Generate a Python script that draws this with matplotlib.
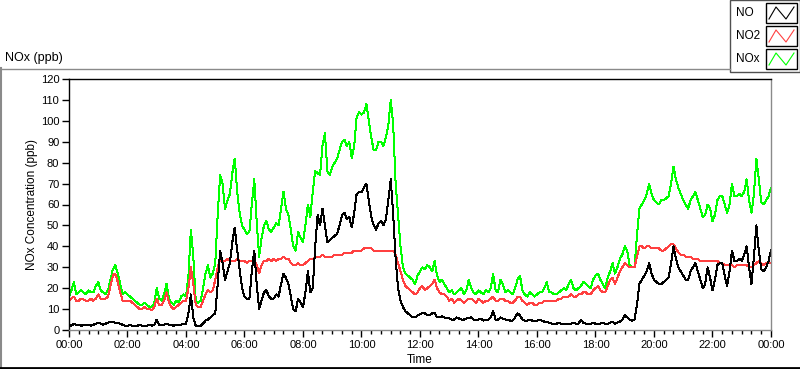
import numpy as np
import matplotlib
matplotlib.use("Agg")
import matplotlib.pyplot as plt
from matplotlib.lines import Line2D
from matplotlib.patches import Rectangle

plt.rcParams['font.family'] = ['Liberation Sans', 'DejaVu Sans']

# 5-minute samples over one day, one row per hour
hours = np.arange(0, 289) / 12.0

no_ppb = [
    2.5, 2, 3, 2.5, 2.5, 2, 2.5, 2.5, 2.5, 2, 2.5, 3,
    3.5, 3, 2.5, 3, 3.5, 4, 4, 3.5, 3.5, 3, 2.5, 2,
    2, 2.5, 2, 2, 2, 2.5, 2, 2, 2, 2.5, 2, 2.5,
    5, 2.5, 2.5, 2.5, 3, 2.5, 2.5, 2, 2.5, 2.5, 2.5, 3,
    3, 8, 17, 6, 2, 2, 2, 3, 4.5, 5, 6, 7,
    8, 22, 38, 32, 24, 28, 32, 42, 49, 38, 29, 20,
    16, 15, 15, 28, 38, 22, 10, 14, 18, 19, 16, 15,
    15, 17, 16, 22, 27, 25, 22, 16, 10, 9, 15, 13,
    11, 18, 28, 18, 20, 40, 55, 50, 58, 50, 42, 43,
    44, 45, 46, 50, 55, 56, 53, 54, 49, 56, 65, 66,
    66, 68, 70, 62, 54, 50, 48, 51, 52, 50, 53, 62,
    72, 55, 34, 20, 14, 11, 9, 8, 7, 6, 6, 7,
    7.5, 8, 8, 7, 7, 8, 8, 6, 6, 6.5, 6, 5.5,
    5.5, 5, 5, 6, 5.5, 5, 5, 5.5, 5.5, 6, 5, 5,
    5, 5.5, 4.5, 5, 5, 6, 9, 5, 5, 6, 5.5, 5,
    5, 4.5, 4.5, 6, 8, 7, 5, 4.5, 4.5, 5, 4.5, 4.5,
    4.5, 5, 4.5, 4, 4, 3.5, 3, 3, 3, 3.5, 3, 3,
    3, 3, 3, 3.5, 3, 3, 5, 3.5, 3, 3, 3, 3.5,
    3, 3, 3, 3.5, 3, 3, 3.5, 4, 3, 3.5, 4, 5,
    7, 6, 5, 4.5, 5, 12, 22, 24, 26, 28, 32, 27,
    24, 23, 22, 22, 23, 24, 25, 32, 40, 34, 30, 28,
    26, 24, 24, 28, 30, 32, 28, 24, 20, 22, 30, 25,
    19, 24, 31, 32, 32, 26, 21, 28, 38, 33, 33, 34,
    33, 36, 40, 30, 22, 35, 50, 38, 29, 28, 30, 33,
    38,
]

no2_ppb = [
    14, 15, 16, 14, 14, 15, 14.5, 14, 14, 15, 14, 15,
    17, 15, 15, 15, 16, 21, 26, 27, 23, 18, 14, 14,
    14, 14, 13, 12, 11, 10, 10, 11, 10, 10, 9.5, 11,
    15, 12, 12, 14, 18, 13, 11, 10, 11, 12, 13, 14,
    14, 20, 30, 22, 12, 11, 11, 14, 17, 19, 18, 19,
    24, 30, 34, 33, 33, 34, 33, 33, 33, 34, 33, 33,
    33, 32, 33, 33, 33, 31, 27, 31, 33, 33, 34, 33,
    34, 33, 34, 34, 35, 34, 34, 32, 31, 31, 32, 31,
    31, 32, 33, 34, 34, 35, 35, 35, 36, 35, 35, 35,
    35, 36, 36, 36, 36, 37, 37, 37, 37, 38, 38, 38,
    38, 39, 39, 39, 39, 38, 38, 38, 38, 38, 38, 38,
    38, 38, 36, 32, 28, 24, 21, 20, 19, 18, 17, 18,
    20, 21, 19, 20, 21, 22, 24, 20, 18, 17, 17, 16,
    14, 15, 13, 14, 15, 14, 13, 14, 15, 15, 14, 13,
    15, 14, 13, 14, 14, 15, 16, 14, 14, 15, 15, 14,
    14, 13, 13, 14, 16, 16, 14, 13, 12, 13, 13, 12,
    12, 13, 13, 14, 14, 14, 14, 14, 14, 15, 15, 16,
    16, 16, 17, 16, 16, 17, 17, 18, 18, 17, 17, 19,
    20, 21, 19, 18, 18, 21, 24, 25, 22, 25, 28, 30,
    32, 31, 30, 30, 30, 35, 40, 40, 39, 40, 40, 39,
    39, 39, 39, 38, 38, 39, 40, 41, 41, 39, 37, 36,
    36, 35, 35, 35, 34, 34, 34, 33, 33, 33, 33, 33,
    33, 33, 33, 32, 32, 31, 31, 31, 31, 30, 31, 31,
    31, 31, 31, 30, 30, 31, 32, 33, 32, 31, 32, 32,
    32,
]

nox_ppb = [
    16, 19, 23, 17, 18, 19, 18, 17, 19, 18, 18, 21,
    23, 19, 18, 17, 19, 24, 29, 31, 27, 22, 17, 18,
    17, 16, 15, 14, 13, 12, 12, 13, 12, 11, 11, 13,
    20, 15, 14, 17, 22, 15, 13, 12, 14, 13, 16, 17,
    16, 26, 48, 35, 14, 13, 14, 20, 27, 31, 25, 27,
    32, 55, 74, 70, 58, 62, 65, 75, 82, 66, 56, 50,
    48, 46, 47, 60, 72, 52, 35, 44, 50, 52, 48, 47,
    49, 51, 50, 58, 66, 58, 55, 48, 40, 38, 47, 44,
    42, 50, 60, 54, 66, 76, 75, 74, 88, 94, 76, 74,
    78, 80, 82, 86, 90, 91, 88, 90, 82, 88, 102, 104,
    103, 104, 108, 100, 92, 86, 86, 90, 90, 88, 92, 98,
    110, 98, 70, 55, 40, 30, 27, 26, 25, 24, 22, 26,
    28, 30, 29, 31, 30, 28, 33, 26, 23, 24, 22, 20,
    18, 19, 17, 18, 19, 20, 17, 19, 24, 20, 18, 17,
    19, 18, 17, 19, 18, 20, 27, 19, 18, 24, 22, 18,
    19, 18, 17, 20, 24, 26, 19, 17, 16, 18, 17, 16,
    17, 18, 18, 20, 23, 18, 18, 17, 17, 18, 19, 20,
    19, 22, 24, 20, 19, 20, 21, 23, 22, 21, 20, 24,
    26, 27, 24, 22, 20, 25, 28, 32, 27, 30, 34, 36,
    40, 38, 31, 30, 30, 45, 58, 60, 62, 65, 70, 65,
    62, 61, 60, 62, 62, 63, 64, 70, 78, 72, 68, 65,
    62, 60, 58, 62, 64, 66, 62, 58, 54, 55, 60, 58,
    52, 55, 62, 64, 64, 60, 56, 60, 70, 64, 64, 65,
    64, 66, 72, 62, 56, 65, 82, 72, 61, 60, 62, 64,
    68,
]

tick_hours = list(range(0, 25, 2))
tick_labels = ["00:00", "02:00", "04:00", "06:00", "08:00", "10:00", "12:00",
               "14:00", "16:00", "18:00", "20:00", "22:00", "00:00"]
series_names = ["NO", "NO2", "NOx"]
series_colors = ["#000000", "#ff4040", "#00ff00"]

W, H = 800, 369
fig = plt.figure(figsize=(W / 100, H / 100), dpi=100)
fig.patch.set_facecolor("white")

ax = fig.add_axes([69 / W, (H - 330) / H, 702 / W, 251 / H])
ax.plot(hours, nox_ppb, color=series_colors[2], lw=0.72, antialiased=False)
ax.plot(hours, no2_ppb, color=series_colors[1], lw=0.72, antialiased=False)
ax.plot(hours, no_ppb, color=series_colors[0], lw=0.72, antialiased=False)

ax.set_xlim(0, 24)
ax.set_ylim(0, 120)
ax.set_xticks(tick_hours)
ax.set_xticklabels(tick_labels)
ax.set_xticks(np.arange(0, 24.01, 1 / 3), minor=True)
ax.set_yticks(range(0, 121, 10))
ax.tick_params(axis="both", which="major", direction="out", length=5, width=1,
               labelsize=8, color="black", pad=2)
ax.tick_params(axis="x", which="minor", direction="out", length=3, width=1, color="black")
ax.tick_params(top=False, right=False)
ax.spines["left"].set_color("black")
ax.spines["top"].set_color("black")
ax.spines["right"].set_color("#8a8a8a")
ax.spines["bottom"].set_color("#8a8a8a")
for s in ax.spines.values():
    s.set_linewidth(1)

ax.set_xlabel("Time", fontsize=8.5, labelpad=3)
ax.set_ylabel("NOx Concentration (ppb)", fontsize=8.5, labelpad=2)

# outer panel frame
fig.add_artist(Line2D([1 / W, 1 / W], [1 - 68 / H, 1 - 368 / H], color="#8a8a8a", lw=1.5))
fig.add_artist(Line2D([0, 730 / W], [1 - 68.5 / H, 1 - 68.5 / H], color="#8a8a8a", lw=1))
fig.add_artist(Line2D([0, 1], [1 - 367.5 / H, 1 - 367.5 / H], color="black", lw=2))
fig.text(5 / W, 1 - 58 / H, "NOx (ppb)", fontsize=9, va="center", ha="left")

# legend box
fig.add_artist(Rectangle((730 / W, 1 - 72 / H), 70 / W, 72 / H, facecolor="white",
                         edgecolor="#505050", lw=1))
for i, (name, col) in enumerate(zip(series_names, series_colors)):
    yc = 13 + 23 * i
    fig.text(736 / W, 1 - yc / H, name, fontsize=8.5, va="center", ha="left")
    x0, x1 = 766, 797
    y0, y1 = yc - 10, yc + 10
    fig.add_artist(Rectangle((x0 / W, 1 - y1 / H), (x1 - x0) / W, (y1 - y0) / H,
                             facecolor="white", edgecolor="black", lw=1))
    zx = [x0 + 3, x0 + 10, x0 + 20, x0 + 28]
    zy = [y1 - 4, y0 + 4, y1 - 4, y0 + 4]
    fig.add_artist(Line2D([v / W for v in zx], [1 - v / H for v in zy], color=col, lw=0.8))

fig.savefig("out.png", dpi=100)
